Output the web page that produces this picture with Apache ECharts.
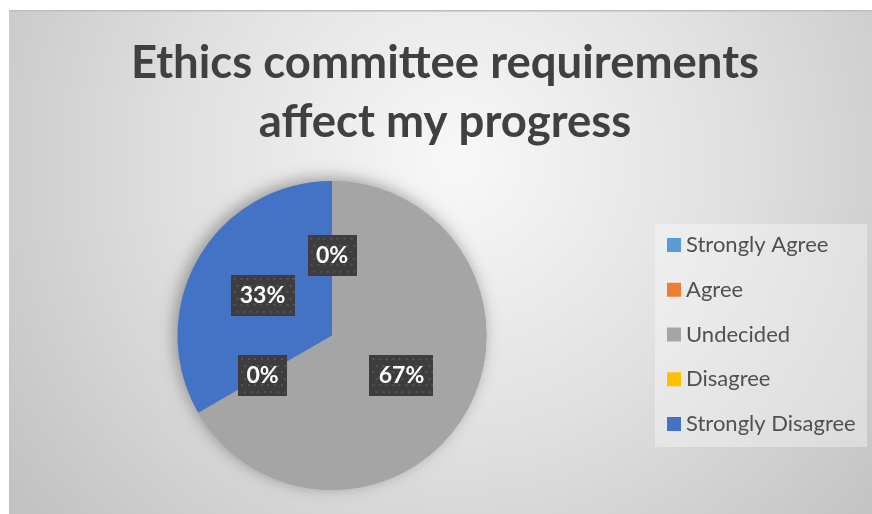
<!DOCTYPE html>
<html>
<head>
<meta charset="utf-8">
<script src="https://cdn.jsdelivr.net/npm/echarts@6/dist/echarts.min.js"></script>
<style>
  html, body { margin: 0; padding: 0; background: #ffffff; }
  #chart { width: 872px; height: 514px; }
</style>
</head>
<body>
<div id="chart"></div>
<script>
// Survey answers
const categories = ['Strongly Agree', 'Agree', 'Undecided', 'Disagree', 'Strongly Disagree'];
const responses = [0, 0, 2, 0, 1];
const sliceColors = ['#5b9bd5', '#ed7d31', '#a5a5a5', '#ffc000', '#4472c4'];
const titleText = 'Ethics committee requirements\naffect my progress';

const FONT = 'Lato, "Open Sans", sans-serif';

// Dark dotted fill used behind the data labels
function dottedTile(w, h) {
  const c = document.createElement('canvas');
  c.width = w; c.height = h;
  const g = c.getContext('2d');
  g.fillStyle = '#3d3d3d';
  g.fillRect(0, 0, w, h);
  g.fillStyle = '#565656';
  let row = 0;
  for (let y = 3; y < h - 1; y += 6.5, row++) {
    for (let x = (row % 2 ? 6 : 3); x < w - 1; x += 6.6) {
      g.fillRect(Math.round(x), Math.round(y), 2, 2);
    }
  }
  return c;
}

const total = responses.reduce((a, b) => a + b, 0);
const pieData = categories.map((name, i) => {
  const pctText = Math.round(responses[i] / total * 100) + '%';
  const boxW = pctText.length > 2 ? 64 : 49;
  return {
    name: name,
    value: responses[i],
    itemStyle: { color: sliceColors[i] },
    label: { width: boxW, backgroundColor: { image: dottedTile(boxW, 41) } }
  };
});

const chart = echarts.init(document.getElementById('chart'), null, { renderer: 'canvas' });

const PIE_CENTER = [332, 335.5];
const PIE_RADIUS = 154.5;

chart.setOption({
  animation: false,
  graphic: [
    {
      type: 'rect', z: -10, silent: true,
      shape: { x: 9, y: 10, width: 863, height: 504 },
      style: {
        fill: new echarts.graphic.RadialGradient(0.52, 0.3, 1.1, [
          { offset: 0, color: '#f8f8f8' },
          { offset: 0.5, color: '#e0e0e0' },
          { offset: 1, color: '#c2c2c2' }
        ])
      }
    },
    {
      type: 'rect', z: -9, silent: true,
      shape: { x: 9, y: 10, width: 863, height: 1.5 },
      style: { fill: '#bcbcbc' }
    },
    {
      type: 'rect', z: -8, silent: true,
      shape: { x: 655, y: 224, width: 212, height: 223 },
      style: { fill: 'rgba(255,255,255,0.35)' }
    }
  ],
  title: {
    text: titleText,
    left: 445,
    top: 34,
    padding: 0,
    textAlign: 'center',
    textStyle: {
      fontFamily: FONT,
      fontWeight: 'bold',
      fontSize: 45.5,
      lineHeight: 59,
      color: '#404040'
    }
  },
  legend: {
    data: categories,
    orient: 'vertical',
    left: 667,
    top: 234,
    padding: 0,
    itemWidth: 14,
    itemHeight: 14,
    itemGap: 22.75,
    icon: 'rect',
    textStyle: {
      fontFamily: FONT,
      fontSize: 22,
      lineHeight: 22,
      color: '#505050'
    }
  },
  series: [
    {
      // plain disc under the slices that carries the soft shadow
      type: 'pie',
      silent: true,
      center: PIE_CENTER,
      radius: PIE_RADIUS,
      z: 1,
      data: [{ value: 1, name: 'disc' }],
      label: { show: false },
      labelLine: { show: false },
      itemStyle: {
        color: '#a5a5a5',
        shadowBlur: 16,
        shadowColor: 'rgba(0,0,0,0.35)',
        shadowOffsetX: -3,
        shadowOffsetY: -3
      }
    },
    {
      type: 'pie',
      center: PIE_CENTER,
      radius: PIE_RADIUS,
      startAngle: 90,
      clockwise: true,
      z: 2,
      data: pieData,
      labelLine: { show: false },
      label: {
        show: true,
        position: 'inside',
        formatter: p => Math.round(p.percent) + '%',
        fontFamily: FONT,
        fontWeight: 'bold',
        fontSize: 23,
        color: '#ffffff',
        height: 41,
        lineHeight: 41,
        padding: 0,
        align: 'center',
        verticalAlign: 'middle',
        shadowColor: 'rgba(0,0,0,0.6)',
        shadowBlur: 7,
        shadowOffsetX: 4,
        shadowOffsetY: 4
      },
      itemStyle: { borderWidth: 0 },
      emphasis: { disabled: true }
    }
  ]
});
</script>
</body>
</html>
